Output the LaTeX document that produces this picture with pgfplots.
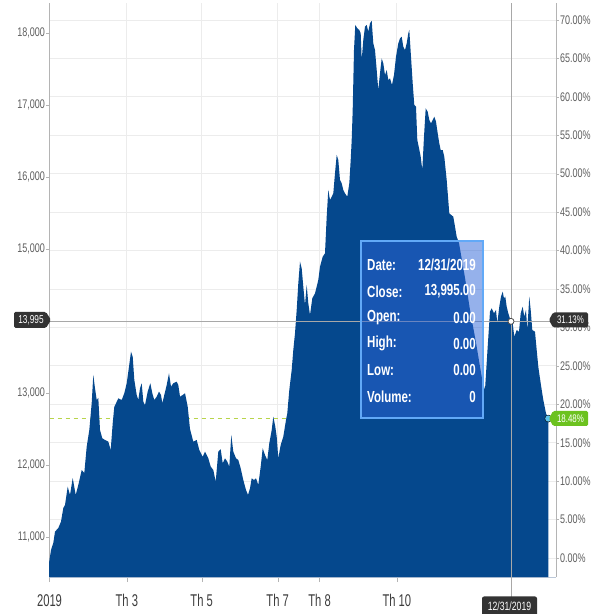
\documentclass[border=0pt]{standalone}
\usepackage{fontspec}
\setmainfont{Liberation Sans}[FakeStretch=0.72]
\newfontfamily\xfont{Liberation Sans}[FakeStretch=0.66]
\usepackage{pgfplots}
\usepackage{pgfplotstable}
\pgfplotsset{compat=1.18}

\definecolor{areablue}{HTML}{05488D}
\definecolor{gridc}{HTML}{ECECEC}
\definecolor{axisc}{HTML}{B4B4B4}
\definecolor{basec}{HTML}{BCC8D8}
\definecolor{ticklab}{HTML}{5E5E5E}
\definecolor{xlab}{HTML}{3C3C3C}
\definecolor{crossc}{HTML}{A8A8A8}
\definecolor{tagdark}{HTML}{333333}
\definecolor{taggreen}{HTML}{6CC21F}
\definecolor{avgline}{HTML}{B8D44A}
\definecolor{tipfill}{HTML}{2B64D8}
\definecolor{tipedge}{HTML}{62A9F7}
\definecolor{dotblue}{HTML}{5BC2EE}

% px = horizontal position (2019 at 49.5, 12/31/2019 at 510.9)
\pgfplotstableread{
px close
49 10639
51 10819
53.3 10917
55 11074
58.3 11125
61 11213
63.3 11403
65 11444
67.7 11699
70 11583
72.7 11819
75.7 11583
78.3 11722
81.7 11930
84.3 11889
86.7 12254
89.3 12486
91.7 12861
93.3 13250
95 13065
96.7 12903
98.3 12931
100 12486
102.3 12371
105 12347
108.3 12324
110.7 12208
112.7 12579
114.3 12810
116 12857
118.3 12926
121.7 12903
124.3 12996
126.7 13135
129 13366
131 13574
132.7 13505
134.3 13181
136.7 12972
138.3 12903
140 13065
141.7 13135
143.3 12880
145 12833
147.7 13019
150.3 13135
152.3 12996
154.3 12903
156.7 12949
159 13019
161 12972
162.3 12857
164.3 12972
166.7 13111
169 13273
171 13088
173.3 13135
176.7 13157
178.3 13111
180 12949
182.7 12972
185 12996
187.7 12810
190 12500
193.3 12324
196.7 12347
199.3 12208
202.7 12115
205 12185
208.3 12093
210.7 11977
213.3 11930
215.7 11768
218.3 12185
220.7 12218
222.7 12024
225 12093
227.3 12046
229.3 11977
231.3 12417
233.3 12185
236 12093
238.3 12069
240.7 11954
243.3 11791
246 11653
248 11583
250 11676
251.7 11815
254 11791
256 11815
258.3 11722
260.7 11977
262.7 12232
265 12139
267.3 12069
269.3 12301
271.7 12486
273.3 12671
275.3 12532
276.7 12393
278.3 12093
280.7 12278
283.3 12393
286 12625
287.3 12718
289.3 13042
291.7 13320
293.3 13597
295 13829
296.7 14153
298.3 14523
300 14824
301.7 14731
303.3 14477
305 14222
306.7 14500
308.3 14245
310 14083
312.3 14315
315 14384
318.3 14569
320 14754
322.7 14893
325 14940
326.7 15449
328.3 15820
330 15681
331.7 15727
333.3 15773
335 16051
336.7 16306
338.3 16236
340 15959
341.7 15912
343.3 15820
345 15773
347.3 15727
349.3 15912
350.7 16236
351.7 16514
352.7 16931
354 17764
355.3 18112
357.3 18066
359.3 18042
360.7 17996
361.7 17625
363.3 17903
365 18088
366.7 18112
368.3 18019
370 18135
371.7 18171
373.3 17856
375 17764
376.7 17486
378.3 17208
380 17440
381.7 17648
383.3 17579
385 17417
386.7 17486
388.3 17347
390 17370
392 17278
394 17417
396 17671
398.3 17856
400 17926
401.7 17949
403.3 17810
405 17764
406.7 17856
408.3 17996
409.3 18042
411 17671
412.7 17301
414.3 17000
416 16977
417.3 16514
418.7 16421
420.7 16282
422.3 16097
424 16560
425.7 16954
427.7 16907
429.3 16792
431 16746
432.7 16792
434.3 16838
436 16769
437.7 16607
439.3 16468
440.7 16375
442.7 16375
444.3 16282
446.7 15959
449.3 15495
453.3 15449
456.7 15171
459 15083
465 14600
470 14153
476 13700
481.7 13227
483.3 13134
485 13042
487.5 13600
490 14130
491.7 14176
494 14107
496 14153
497.3 13968
499.3 14199
501 14338
502.7 14407
504 14315
505.3 14338
506.7 14199
508.3 14107
510.9 13995
512.7 13968
514.3 13782
516.7 13875
519 13851
520.7 14107
522.7 14199
524.3 14060
526 14153
527.3 13875
529.3 14338
530.7 14153
532.3 13875
535 13851
536.7 13597
538.3 13366
540.7 13134
543.3 12903
546 12718
548.3 12645
}\closes

\begin{document}
\begin{tikzpicture}[x=1pt,y=1pt]
\path[use as bounding box] (0,0) rectangle (595,614);

% right scale: change in percent, carries the grid
\begin{axis}[
  at={(49pt,37pt)}, anchor=south west,
  width=507pt, height=574pt, scale only axis,
  xmin=-0.4, xmax=399.5, ymin=-2.47, ymax=72.2,
  axis y line*=right, axis x line*=bottom,
  x axis line style={draw=none},
  y axis line style={draw=axisc, line width=0.8pt},
  xtick={0,61,120,180,213,274}, xticklabels={}, xtick style={draw=none},
  ytick={0,5,...,70},
  ytick style={draw=axisc},
  tick align=outside, major tick length=2.5pt,
  grid style={gridc, line width=0.8pt},
  xmajorgrids, ymajorgrids,
  /pgf/number format/assume math mode=true,
  yticklabel={\pgfmathprintnumber[fixed,fixed zerofill,precision=2]{\tick}\%},
  yticklabel style={font=\fontsize{12.5}{14}\selectfont, text=ticklab, inner sep=1.5pt},
]
\end{axis}

% left scale: close price (14,000 sits under the crosshair tag)
\begin{axis}[
  at={(49pt,37pt)}, anchor=south west,
  width=507pt, height=574pt, scale only axis,
  xmin=-0.4, xmax=399.5, ymin=10444, ymax=18417,
  axis y line*=left, axis x line*=bottom,
  y axis line style={draw=axisc, line width=0.8pt},
  x axis line style={draw=basec, line width=0.8pt},
  xtick={0,61,120,180,213,274},
  xticklabels={2019,Th 3,Th 5,Th 7,Th 8,Th 10},
  ytick={11000,12000,13000,15000,16000,17000,18000},
  scaled y ticks=false,
  tick align=outside, major tick length=3pt,
  ytick style={draw=axisc},
  xtick style={draw=axisc, /pgfplots/major tick length=5pt},
  xticklabel style={font=\xfont\fontsize{17}{19}\selectfont, text=xlab, inner sep=2pt, yshift=-12pt},
  yticklabel style={font=\fontsize{12.5}{14}\selectfont, text=ticklab, inner sep=1pt},
  /pgf/number format/assume math mode=true,
  /pgf/number format/1000 sep={,},
]
\addplot[avgline, line width=1pt, dash pattern=on 4pt off 4pt] coordinates {(0,12645) (393.4,12645)};
\addplot[fill=areablue, draw=none] table[x expr=(\thisrow{px}-49.5)*0.78873, y=close] {\closes} \closedcycle;
\addplot[crossc, line width=0.9pt] coordinates {(-0.4,13995) (399.5,13995)};
\addplot[crossc, line width=0.9pt] coordinates {(364,10444) (364,18417)};
\addplot[only marks, mark=*, mark size=3pt, mark options={fill=white, draw=black!70, line width=0.8pt}] coordinates {(364,13995)};
\addplot[only marks, mark=*, mark size=3.5pt, mark options={fill=dotblue, draw=none}] coordinates {(393.4,12645)};
\coordinate (cx) at (axis cs:364,10444);
\end{axis}

\draw[crossc, line width=0.9pt] (cx) -- ++(0,-20);

% tooltip
\fill[tipfill, opacity=0.5] (361,373) rectangle (483,196);
\draw[tipedge, line width=1.2pt] (361,373) rectangle (483,196);
\begin{scope}[every node/.style={text=white, font=\bfseries\fontsize{16}{18}\selectfont, inner sep=0pt}]
\node[anchor=west] at (367,349) {Date:};     \node[anchor=east] at (476,349) {12/31/2019};
\node[anchor=west] at (367,322.7) {Close:};  \node[anchor=east] at (476,322.7) {13,995.00};
\node[anchor=west] at (367,296.4) {Open:};   \node[anchor=east] at (476,296.4) {0.00};
\node[anchor=west] at (367,270.1) {High:};   \node[anchor=east] at (476,270.1) {0.00};
\node[anchor=west] at (367,243.8) {Low:};    \node[anchor=east] at (476,243.8) {0.00};
\node[anchor=west] at (367,217.5) {Volume:}; \node[anchor=east] at (476,217.5) {0};
\end{scope}

% value tags
\fill[tagdark, rounded corners=1.5pt] (14,302) -- (46,302) -- (51,294) -- (46,286) -- (14,286) -- cycle;
\node[text=white, font=\fontsize{11.5}{12}\selectfont, inner sep=0pt] at (31,294) {13,995};
\fill[tagdark, rounded corners=1.5pt] (588,301.5) -- (553,301.5) -- (549,294) -- (553,286.5) -- (588,286.5) -- cycle;
\node[text=white, font=\fontsize{11}{12}\selectfont, inner sep=0pt] at (570.5,294) {31.13\%};
\fill[taggreen, rounded corners=1.5pt] (588,203) -- (553,203) -- (549,195.5) -- (553,188) -- (588,188) -- cycle;
\node[text=white, font=\fontsize{11}{12}\selectfont, inner sep=0pt] at (570.5,195.5) {18.48\%};
\fill[tagdark, rounded corners=2pt] (482,-3) rectangle (537,17.5);
\node[text=white, font=\fontsize{12}{13}\selectfont, inner sep=0pt] at (509.5,8) {12/31/2019};
\end{tikzpicture}
\end{document}
